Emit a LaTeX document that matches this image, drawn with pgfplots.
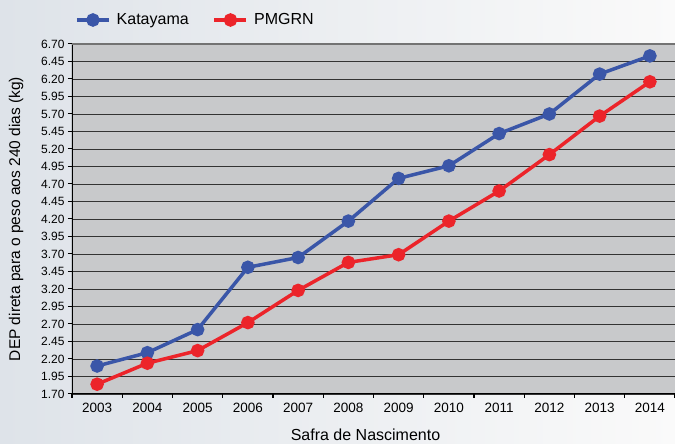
\documentclass[border=0pt]{standalone}
\usepackage{fontspec}
\setmainfont{Liberation Sans}
\usepackage{pgfplots}
\pgfplotsset{compat=1.18}
\definecolor{kblue}{RGB}{58,86,168}
\definecolor{pred}{RGB}{236,36,42}
\definecolor{plotbg}{RGB}{200,201,203}
\definecolor{bgl}{RGB}{222,227,233}
\definecolor{bgr}{RGB}{250,250,250}
\begin{document}
\begin{tikzpicture}
\shade[left color=bgl, right color=bgr] (0,0) rectangle (675pt,444pt);
\begin{axis}[
  at={(72pt,50pt)}, anchor=south west,
  scale only axis, width=603pt, height=350pt,
  xmin=-0.5, xmax=11.5, ymin=1.70, ymax=6.70,
  axis line style={draw=none},
  axis background/.style={fill=plotbg},
  xtick={0,...,11},
  xticklabels={2003,2004,2005,2006,2007,2008,2009,2010,2011,2012,2013,2014},
  major x tick style={draw=none},
  minor xtick={-0.5,0.5,1.5,2.5,3.5,4.5,5.5,6.5,7.5,8.5,9.5,10.5,11.5},
  minor x tick style={black, line width=1.2pt},
  minor tick length=4pt,
  ytick={1.70,1.95,2.20,2.45,2.70,2.95,3.20,3.45,3.70,3.95,4.20,4.45,4.70,4.95,5.20,5.45,5.70,5.95,6.20,6.45,6.70},
  yticklabel style={font=\fontsize{12}{14}\selectfont, /pgf/number format/fixed, /pgf/number format/fixed zerofill, /pgf/number format/precision=2, /pgf/number format/assume math mode=true},
  y tick style={black, line width=1pt},
  major tick length=4pt,
  tick align=outside, tick pos=left,
  ymajorgrids,
  grid style={black!80, line width=0.9pt},
  xticklabel style={font=\fontsize{13.5}{15}\selectfont, yshift=-2pt},
  xlabel={Safra de Nascimento},
  ylabel={DEP direta para o peso aos 240 dias (kg)},
  every axis x label/.style={at={(axis description cs:0.5,0)}, anchor=center, yshift=-41pt, xshift=-8pt, font=\fontsize{16}{18}\selectfont},
  every axis y label/.style={at={(axis description cs:0,0.5)}, rotate=90, anchor=center, yshift=56pt, font=\fontsize{15.5}{17}\selectfont},
  legend columns=2,
  legend style={at={(axis description cs:0,1)}, anchor=west, yshift=24pt, xshift=0pt, draw=none, fill=none, font=\fontsize{16}{18}\selectfont,
    /tikz/every even column/.append style={column sep=18pt},
    nodes={inner xsep=6pt}},
  legend image code/.code={\draw[mark repeat=2, mark phase=2, #1] plot coordinates {(0pt,0pt) (16pt,0pt) (32pt,0pt)};},
]
\addplot[kblue, line width=3.5pt, mark=*, mark size=5pt] coordinates {
(0,2.10) (1,2.29) (2,2.62) (3,3.51) (4,3.65) (5,4.17) (6,4.78) (7,4.96) (8,5.42) (9,5.70) (10,6.27) (11,6.53)};
\addlegendentry{Katayama}
\addplot[pred, line width=3.5pt, mark=*, mark size=5pt] coordinates {
(0,1.84) (1,2.14) (2,2.32) (3,2.72) (4,3.18) (5,3.58) (6,3.69) (7,4.17) (8,4.60) (9,5.12) (10,5.67) (11,6.16)};
\addlegendentry{PMGRN}
\draw[black, line width=1.5pt] (rel axis cs:0,0) -- (rel axis cs:1,0);
\draw[black, line width=1.2pt] (rel axis cs:0,0) -- (rel axis cs:0,1);
\draw[black!55, line width=1.8pt] (rel axis cs:0,1) -- (rel axis cs:1,1);
\end{axis}
\pgfresetboundingbox
\useasboundingbox (0,0) rectangle (675pt,444pt);
\end{tikzpicture}
\end{document}
